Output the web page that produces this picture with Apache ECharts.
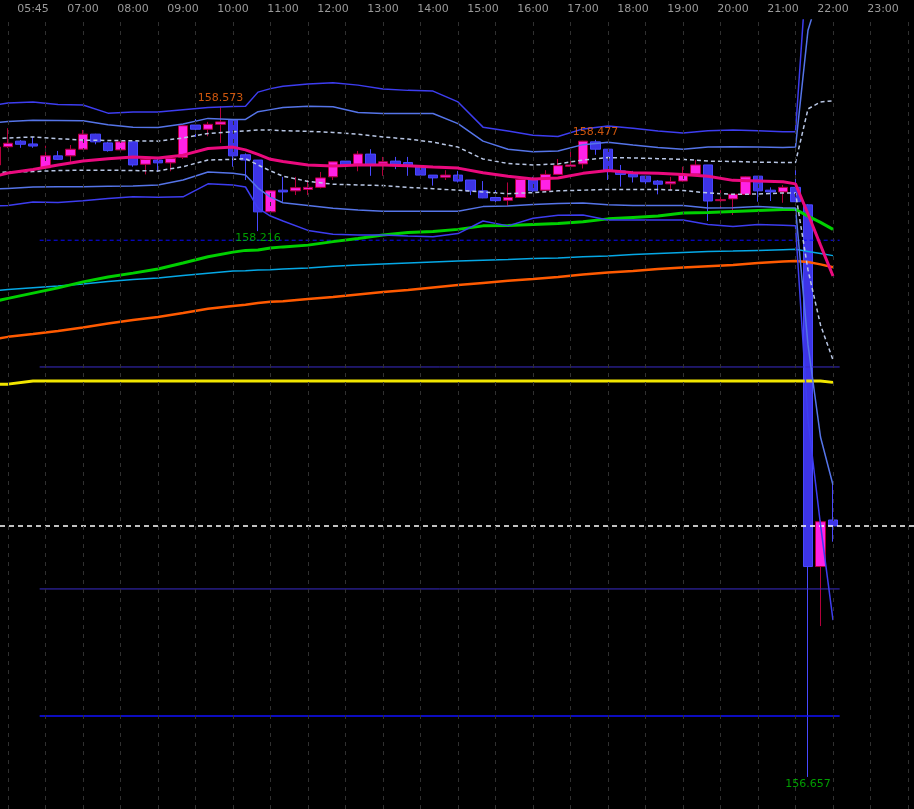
<!DOCTYPE html>
<html><head><meta charset="utf-8">
<script src="https://cdn.jsdelivr.net/npm/echarts@6/dist/echarts.min.js"></script>
<style>html,body{margin:0;padding:0;background:#000;}#c{width:914px;height:809px;}</style>
</head><body><div id="c"></div>
<script>
// ---- candles (time in minutes of day, 15-minute bars) ----
const candleTimes = [315,330,345,360,375,390,405,420,435,450,465,480,495,510,525,540,555,570,585,600,615,630,645,660,675,690,705,720,735,750,765,780,795,810,825,840,855,870,885,900,915,930,945,960,975,990,1005,1020,1035,1050,1065,1080,1095,1110,1125,1140,1155,1170,1185,1200,1215,1230,1245,1260,1275,1290,1305,1320];
const opens  = [158.405,158.457,158.473,158.465,158.397,158.431,158.431,158.450,158.493,158.468,158.448,158.471,158.407,158.419,158.411,158.427,158.519,158.507,158.521,158.533,158.434,158.419,158.271,158.333,158.331,158.335,158.341,158.371,158.416,158.407,158.436,158.408,158.416,158.412,158.400,158.376,158.370,158.376,158.362,158.331,158.312,158.304,158.312,158.362,158.333,158.378,158.401,158.408,158.471,158.450,158.388,158.379,158.373,158.359,158.351,158.359,158.379,158.405,158.303,158.308,158.321,158.373,158.333,158.328,158.341,158.291,157.258,157.391];
const closes = [158.456,158.467,158.464,158.459,158.431,158.421,158.450,158.493,158.471,158.446,158.471,158.405,158.421,158.411,158.424,158.517,158.507,158.521,158.528,158.431,158.419,158.271,158.331,158.328,158.340,158.341,158.368,158.414,158.405,158.436,158.407,158.414,158.407,158.403,158.376,158.368,158.376,158.359,158.331,158.311,158.303,158.312,158.364,158.331,158.378,158.403,158.405,158.473,158.450,158.388,158.378,158.371,158.357,158.350,158.357,158.376,158.405,158.302,158.306,158.321,158.371,158.331,158.328,158.341,158.300,157.258,157.386,157.374];
const lows   = [158.399,158.453,158.454,158.454,158.393,158.419,158.414,158.448,158.464,158.443,158.441,158.400,158.378,158.385,158.387,158.422,158.485,158.487,158.468,158.400,158.362,158.216,158.262,158.300,158.319,158.319,158.338,158.362,158.393,158.387,158.374,158.374,158.393,158.374,158.376,158.346,158.362,158.355,158.319,158.310,158.288,158.288,158.311,158.328,158.328,158.376,158.401,158.395,158.434,158.362,158.343,158.355,158.348,158.321,158.333,158.357,158.379,158.245,158.281,158.262,158.319,158.300,158.302,158.297,158.291,156.657,157.088,157.329];
const highs  = [158.476,158.510,158.476,158.485,158.460,158.445,158.462,158.505,158.494,158.471,158.473,158.471,158.422,158.428,158.424,158.521,158.536,158.528,158.573,158.533,158.438,158.419,158.333,158.371,158.371,158.362,158.385,158.414,158.416,158.445,158.450,158.428,158.428,158.428,158.403,158.376,158.390,158.388,158.362,158.359,158.333,158.355,158.371,158.371,158.390,158.422,158.445,158.474,158.477,158.450,158.405,158.388,158.376,158.362,158.371,158.400,158.419,158.405,158.333,158.321,158.373,158.373,158.341,158.348,158.390,158.293,157.391,157.497];

// ---- indicator lines, sampled at these times ----
const lineTimes = [315,330,360,390,420,450,480,510,540,570,600,615,630,645,660,690,720,750,780,810,840,870,900,930,960,990,1020,1050,1080,1110,1140,1170,1200,1230,1260,1275,1290,1305,1320];
const maMagenta = [158.373,158.382,158.392,158.405,158.416,158.423,158.428,158.425,158.433,158.452,158.456,158.448,158.435,158.421,158.415,158.405,158.402,158.405,158.405,158.403,158.399,158.396,158.383,158.373,158.365,158.368,158.381,158.389,158.383,158.381,158.378,158.373,158.361,158.359,158.357,158.351,158.265,158.176,158.088];
const bandOuterUp = [158.576,158.582,158.585,158.578,158.576,158.553,158.556,158.556,158.563,158.569,158.572,158.573,158.613,158.623,158.630,158.636,158.640,158.633,158.622,158.618,158.616,158.585,158.513,158.502,158.490,158.486,158.508,158.516,158.510,158.502,158.496,158.503,158.505,158.503,158.500,158.500,159.019,159.222,159.333];
const bandInnerUp = [158.526,158.529,158.533,158.532,158.531,158.520,158.513,158.512,158.522,158.538,158.535,158.535,158.557,158.563,158.569,158.573,158.571,158.555,158.552,158.552,158.552,158.523,158.473,158.450,158.443,158.445,158.463,158.470,158.462,158.455,158.450,158.456,158.457,158.456,158.455,158.456,158.790,158.905,158.962];
const bandDashUp = [158.480,158.482,158.485,158.480,158.476,158.475,158.474,158.473,158.482,158.495,158.500,158.502,158.505,158.505,158.503,158.501,158.498,158.493,158.485,158.479,158.470,158.456,158.422,158.409,158.405,158.408,158.419,158.426,158.425,158.423,158.421,158.416,158.415,158.413,158.412,158.412,158.565,158.585,158.588];
const bandDashDn = [158.383,158.385,158.386,158.389,158.390,158.390,158.389,158.388,158.400,158.419,158.421,158.423,158.405,158.388,158.373,158.358,158.350,158.348,158.346,158.341,158.337,158.333,158.328,158.323,158.326,158.331,158.333,158.335,158.335,158.335,158.332,158.325,158.321,158.322,158.325,158.325,158.105,157.948,157.848];
const bandInnerDn = [158.336,158.338,158.342,158.343,158.343,158.344,158.345,158.348,158.362,158.385,158.381,158.376,158.339,158.313,158.297,158.289,158.281,158.276,158.273,158.273,158.273,158.273,158.286,158.288,158.292,158.295,158.296,158.291,158.289,158.289,158.289,158.282,158.283,158.286,158.283,158.282,157.891,157.628,157.491];
const bandOuterDn = [158.288,158.289,158.299,158.298,158.303,158.309,158.314,158.313,158.314,158.351,158.348,158.342,158.282,158.259,158.245,158.218,158.207,158.205,158.205,158.202,158.200,158.209,158.245,158.231,158.253,158.261,158.262,158.248,158.248,158.248,158.248,158.235,158.229,158.235,158.233,158.231,157.677,157.377,157.105];
const maGreen = [158.016,158.024,158.039,158.054,158.071,158.085,158.096,158.108,158.125,158.143,158.156,158.161,158.162,158.168,158.171,158.176,158.186,158.195,158.205,158.212,158.215,158.221,158.231,158.232,158.235,158.238,158.243,158.251,158.255,158.259,158.268,158.269,158.272,158.275,158.278,158.278,158.259,158.241,158.221];
const maCyan = [158.046,158.049,158.054,158.059,158.065,158.072,158.078,158.082,158.089,158.096,158.102,158.103,158.105,158.106,158.108,158.111,158.116,158.119,158.122,158.125,158.128,158.131,158.133,158.135,158.138,158.139,158.143,158.145,158.149,158.152,158.155,158.158,158.159,158.161,158.163,158.164,158.158,158.152,158.146];
const maOrange = [157.908,157.914,157.922,157.931,157.941,157.952,157.962,157.971,157.982,157.994,158.002,158.006,158.011,158.014,158.016,158.022,158.028,158.035,158.042,158.048,158.055,158.062,158.068,158.074,158.079,158.085,158.092,158.098,158.102,158.108,158.112,158.116,158.119,158.125,158.129,158.131,158.128,158.121,158.113];
const maYellow = [157.779,157.779,157.788,157.788,157.788,157.788,157.788,157.788,157.788,157.788,157.788,157.788,157.788,157.788,157.788,157.788,157.788,157.788,157.788,157.788,157.788,157.788,157.788,157.788,157.788,157.788,157.788,157.788,157.788,157.788,157.788,157.788,157.788,157.788,157.788,157.788,157.788,157.788,157.784];

// ---- horizontal levels ----
const levelSpan = [368, 1328];
const levelDashed = 158.190;
const levelPurple = [157.828, 157.194];
const levelBlue = 156.831;
const bidPrice = 157.374;

// ---- high/low labels ----
const highMarks = [[585, 158.573], [1035, 158.477]];
const lowMarks = [[630, 158.216], [1290, 156.657]];

// ---- axis ----
const tickTimes = [360,420,480,540,600,660,720,780,840,900,960,1020,1080,1140,1200,1260,1320,1380];
const tickLabels = ['05:45','07:00','08:00','09:00','10:00','11:00','12:00','13:00','14:00','15:00','16:00','17:00','18:00','19:00','20:00','21:00','22:00','23:00'];
const gridTimes = [330,375,420,465,510,555,600,645,690,735,780,825,870,915,960,1005,1050,1095,1140,1185,1230,1275,1320,1365,1410];

const xMin = 320.4, xMax = 1417.2, yMin = 156.5655, yMax = 158.819;

const chart = echarts.init(document.getElementById('c'));
const candleData = candleTimes.map((t, i) => [t, opens[i], closes[i], lows[i], highs[i]]);
const pair = arr => lineTimes.map((t, i) => [t, arr[i]]);
function ln(arr, color, width, type, z) {
  return { type: 'line', data: pair(arr), symbol: 'none', showSymbol: false, silent: true,
    lineStyle: { color: color, width: width, type: type || 'solid' }, z: z || 4, animation: false };
}
function hline(v, x0, x1, color, width, type) {
  return { type: 'line', data: [[x0, v], [x1, v]], symbol: 'none', showSymbol: false, silent: true,
    lineStyle: { color: color, width: width, type: type || 'solid' }, z: 3, animation: false };
}
const dash = [4, 3];
const series = [
  { type: 'line', data: [], silent: true, z: 1, animation: false,
    markLine: { silent: true, symbol: ['none', 'none'], label: { show: false }, animation: false,
      lineStyle: { color: '#303030', width: 1, type: [4, 5] },
      data: gridTimes.map(t => ({ xAxis: t })) } },
  hline(levelDashed, levelSpan[0], levelSpan[1], '#0a0aff', 1, [4, 3]),
  hline(levelPurple[0], levelSpan[0], levelSpan[1], '#3a2cc8', 1),
  hline(levelPurple[1], levelSpan[0], levelSpan[1], '#3a2cc8', 1),
  hline(levelBlue, levelSpan[0], levelSpan[1], '#1010ff', 1.5),
  { type: 'candlestick', data: candleData, encode: { x: 0, y: [1, 2, 3, 4] }, barWidth: 10, z: 2,
    silent: true, animation: false,
    itemStyle: { color: '#ff22e6', color0: '#3d34e6', borderColor: '#b3003c', borderColor0: '#4848ff', borderWidth: 1 } },
  ln(maYellow, '#f2e600', 3),
  ln(maOrange, '#ff5a00', 2.5),
  ln(maCyan, '#05a8e6', 1.5),
  ln(maGreen, '#00d000', 3),
  ln(bandOuterUp, '#3d3df0', 1.5),
  ln(bandOuterDn, '#3d3df0', 1.5),
  ln(bandInnerUp, '#5574e8', 1.5),
  ln(bandInnerDn, '#5574e8', 1.5),
  ln(bandDashUp, '#b8c6e4', 1.5, dash),
  ln(bandDashDn, '#b8c6e4', 1.5, dash),
  ln(maMagenta, '#ea0a7e', 3, 'solid', 5),
  hline(bidPrice, xMin, xMax, '#ffffff', 1.5, [5, 4]),
  { type: 'scatter', data: highMarks, symbolSize: 0, silent: true, z: 6, animation: false,
    label: { show: true, position: 'top', distance: 2, color: '#ff6a10', fontFamily: 'DejaVu Sans', fontSize: 11,
      formatter: p => p.value[1].toFixed(3) } },
  { type: 'scatter', data: lowMarks, symbolSize: 0, silent: true, z: 6, animation: false,
    label: { show: true, position: 'bottom', distance: 2, color: '#00c400', fontFamily: 'DejaVu Sans', fontSize: 11,
      formatter: p => p.value[1].toFixed(3) } }
];

chart.setOption({
  backgroundColor: '#000000',
  animation: false,
  grid: { left: 0, right: 0, top: 20, bottom: 0, containLabel: false },
  xAxis: {
    type: 'value', min: xMin, max: xMax, position: 'top',
    axisLine: { show: false }, axisTick: { show: false }, splitLine: { show: false },
    axisLabel: { show: true, customValues: tickTimes, margin: 5, color: '#9a9a9a', fontFamily: 'DejaVu Sans', fontSize: 11,
      formatter: v => { const i = tickTimes.indexOf(Math.round(v)); return i >= 0 ? tickLabels[i] : ''; } }
  },
  yAxis: { type: 'value', min: yMin, max: yMax, show: false, splitLine: { show: false } },
  series: series
});
</script>
</body></html>
